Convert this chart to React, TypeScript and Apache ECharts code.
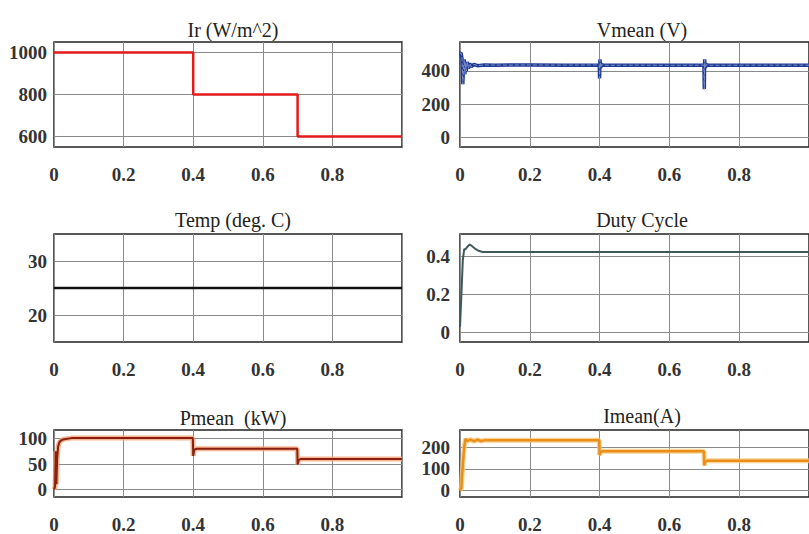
import React, { useEffect, useRef } from "react";
import * as echarts from "echarts";

// ---- data ----
const irT = [0, 0.4, 0.4, 0.7, 0.7, 1.0];
const irV = [1000, 1000, 800, 800, 600, 600];

const vT = [0, 0.003, 0.006, 0.008, 0.01, 0.012, 0.014, 0.016, 0.018, 0.021, 0.024, 0.028, 0.032, 0.04, 0.05, 0.07, 0.1, 0.2, 0.3, 0.399, 0.4, 0.401, 0.403, 0.406, 0.41, 0.5, 0.6, 0.699, 0.7, 0.701, 0.703, 0.706, 0.71, 0.85, 1.0];
const vV = [505, 510, 470, 320, 420, 470, 380, 450, 400, 455, 415, 445, 425, 440, 432, 436, 435, 436, 435, 436, 355, 470, 420, 440, 434, 435, 434, 435, 290, 470, 420, 440, 434, 435, 435];

const tempT = [0, 1.0];
const tempV = [25, 25];

const dT = [0, 0.004, 0.008, 0.012, 0.016, 0.02, 0.028, 0.035, 0.045, 0.055, 0.065, 1.0];
const dV = [0.03, 0.2, 0.38, 0.44, 0.44, 0.45, 0.465, 0.455, 0.44, 0.43, 0.425, 0.425];

const pT = [0, 0.003, 0.005, 0.007, 0.009, 0.012, 0.015, 0.018, 0.022, 0.03, 0.05, 0.399, 0.4, 0.403, 0.41, 0.699, 0.7, 0.703, 0.71, 1.0];
const pV = [0, 5, 75, 10, 60, 85, 92, 95, 97, 99, 101, 101, 66, 78, 80, 80, 49, 58, 60, 60];

const iT = [0, 0.004, 0.008, 0.012, 0.016, 0.02, 0.03, 0.04, 0.05, 0.06, 0.07, 0.399, 0.4, 0.403, 0.41, 0.699, 0.7, 0.703, 0.71, 1.0];
const iV = [0, 10, 120, 200, 240, 228, 236, 228, 235, 229, 232, 232, 164, 178, 182, 182, 116, 134, 138, 138];

// tick labels
const irTicks = [600, 800, 1000];
const vTicks = [0, 200, 400];
const tempTicks = [20, 30];
const dTicks = [0, 0.2, 0.4];
const pTicks = [0, 50, 100];
const iTicks = [0, 100, 200];

const titles = ["Ir (W/m^2)", "Vmean (V)", "Temp (deg. C)", "Duty Cycle", "Pmean  (kW)", "Imean(A)"];

const zip = (t: number[], v: number[]) => t.map((x, i) => [x, v[i]]);

export default function App() {
  const ref = useRef<HTMLDivElement>(null);
  useEffect(() => {
    if (!ref.current) return;
    const chart = echarts.init(ref.current, null, { renderer: "svg" });
    const serif = "'Liberation Serif', 'Times New Roman', serif";
    const gridPos = [
      { left: 54, width: 348, top: 42, height: 105 },
      { left: 460, width: 354, top: 42, height: 105 },
      { left: 54, width: 348, top: 234, height: 108 },
      { left: 460, width: 354, top: 234, height: 108 },
      { left: 54, width: 348, top: 430, height: 70 },
      { left: 460, width: 354, top: 430, height: 70 },
    ];
    const ranges = [
      [550, 1050, irTicks],
      [-60, 575, vTicks],
      [15, 35, tempTicks],
      [-0.05, 0.52, dTicks],
      [-15, 117, pTicks],
      [-30, 280, iTicks],
    ] as [number, number, number[]][];
    const grids = gridPos.map((g) => ({
      ...g,
      show: true,
      borderColor: "#222",
      borderWidth: 1.5,
      backgroundColor: "#fff",
      containLabel: false,
    }));
    const splitLine = { show: true, lineStyle: { color: "#8a8a8a", width: 1 } };
    const labelStyle = {
      fontFamily: serif,
      fontWeight: "bold" as const,
      fontSize: 19,
      color: "#333",
      formatter: (v: number) => String(v),
    };
    const xAxes = gridPos.map((_, i) => ({
      type: "value" as const,
      gridIndex: i,
      min: 0,
      max: 1,
      interval: 0.2,
      axisLine: { show: false },
      axisTick: { show: false },
      splitLine,
      axisLabel: { ...labelStyle, margin: 18, showMaxLabel: false },
    }));
    const yAxes = ranges.map(([mn, mx, ticks], i) => ({
      type: "value" as const,
      gridIndex: i,
      min: mn,
      max: mx,
      axisLine: { show: false },
      axisTick: { show: false, customValues: ticks },
      splitLine,
      axisLabel: { ...labelStyle, margin: i % 2 === 0 ? 7 : 10, customValues: ticks },
    }));
    const line = (i: number, data: number[][], color: string, width: number, z = 2, opacity = 1, type = "solid") => ({
      type: "line" as const,
      xAxisIndex: i,
      yAxisIndex: i,
      data,
      showSymbol: false,
      z,
      lineStyle: { color, width, opacity, type },
    });
    const title = titles.map((t, i) => {
      const g = gridPos[i];
      const cy = [27, 27, 217, 217, 415, 413][i];
      return {
        text: t,
        left: g.left + (i % 2 === 0 ? g.width / 2 : 177),
        top: cy - 12,
        textAlign: "center" as const,
        textStyle: { fontFamily: serif, fontSize: 20, fontWeight: "normal" as const, color: "#222" },
      };
    });
    chart.setOption({
      animation: false,
      backgroundColor: "#fff",
      title,
      grid: grids,
      xAxis: xAxes,
      yAxis: yAxes,
      series: [
        line(0, zip(irT, irV), "#e31a1a", 2.5),
        line(1, zip(vT, vV), "#1f3a93", 3.5),
        line(1, zip(vT, vV), "#7d8fc8", 1, 3, 1, "dashed"),
        line(2, zip(tempT, tempV), "#111", 2.5),
        line(3, zip(dT, dV), "#3e5a58", 2),
        line(4, zip(pT, pV), "#f4a374", 5, 2, 0.8),
        line(4, zip(pT, pV), "#8a2010", 2, 3),
        line(5, zip(iT, iV), "#f8c77a", 5, 2, 0.8),
        line(5, zip(iT, iV), "#e8901a", 2.5, 3),
      ],
    });
    return () => chart.dispose();
  }, []);
  return <div ref={ref} style={{ position: "absolute", left: 0, top: 0, width: 809, height: 534 }} />;
}
